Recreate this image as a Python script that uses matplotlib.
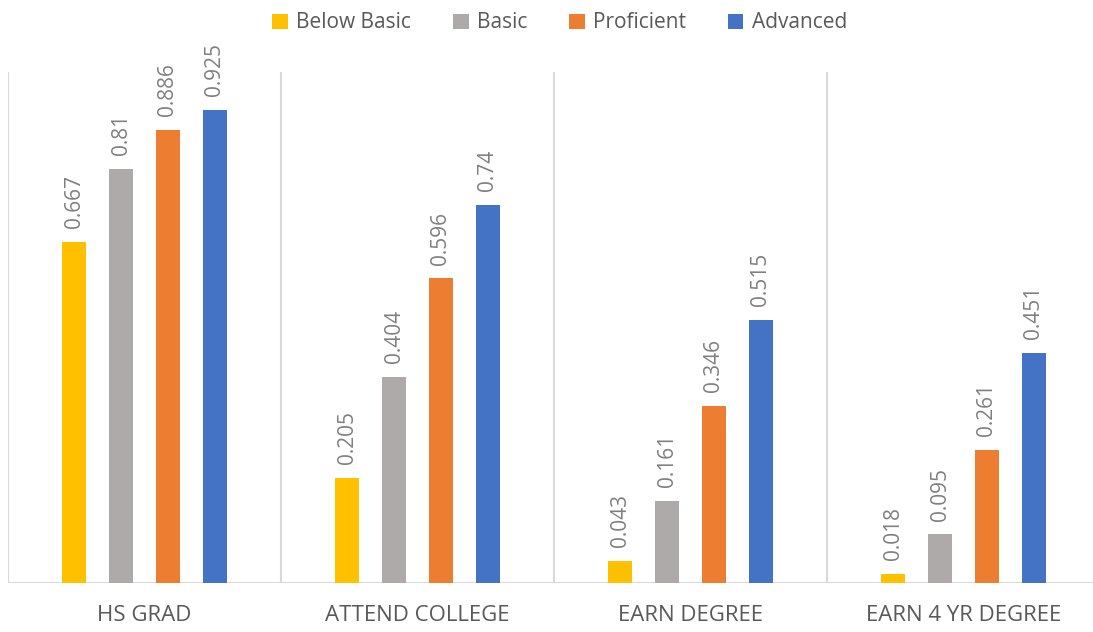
import matplotlib
matplotlib.use("Agg")
import matplotlib.pyplot as plt
import numpy as np

categories = ["HS GRAD", "ATTEND COLLEGE", "EARN DEGREE", "EARN 4 YR DEGREE"]
series_names = ["Below Basic", "Basic", "Proficient", "Advanced"]
below_basic = [0.667, 0.205, 0.043, 0.018]
basic = [0.81, 0.404, 0.161, 0.095]
proficient = [0.886, 0.596, 0.346, 0.261]
advanced = [0.925, 0.74, 0.515, 0.451]
colors = ["#FFC000", "#AEAAAA", "#ED7D31", "#4472C4"]

series = [below_basic, basic, proficient, advanced]

plt.rcParams['font.family'] = ['Open Sans', 'DejaVu Sans']

W, H = 1093, 632
fig = plt.figure(figsize=(W / 100, H / 100), dpi=100)
left, right, bottom, top = 8, 1100, 583, 72
ax = fig.add_axes([left / W, (H - bottom) / H, (right - left) / W, (bottom - top) / H])

n = len(categories)
x = np.arange(n)
bw = 24 / 273
step = 46.7 / 273
offsets = (np.arange(4) - 1.5) * step
grid = "#D9D9D9"
label_color = "#7F7F7F"

for i, (vals, name, c) in enumerate(zip(series, series_names, colors)):
    bars = ax.bar(x + offsets[i], vals, width=bw, color=c, label=name, zorder=3)
    for b, v in zip(bars, vals):
        ax.annotate(f"{v:g}", (b.get_x() + b.get_width() / 2, v),
                    xytext=(0, 10), textcoords="offset points",
                    rotation=90, ha="center", va="bottom",
                    fontsize=15, color=label_color)

ax.set_xlim(-0.5, n - 0.5)
ax.set_ylim(0, 1)
for s in np.arange(n + 1) - 0.5:
    ax.axvline(s, color=grid, lw=1.5, zorder=1)
for sp in ax.spines.values():
    sp.set_visible(False)
ax.axhline(0, color=grid, lw=1.5, zorder=2)
ax.set_yticks([])
ax.set_xticks(x)
ax.set_xticklabels(categories, fontsize=16, color="#595959")
ax.tick_params(axis="x", length=0, pad=16)

leg = fig.legend(loc="upper center", bbox_to_anchor=(0.512, 1.01), ncol=4,
                 frameon=False, fontsize=15, handlelength=0.75, handleheight=0.75,
                 handletextpad=0.4, columnspacing=2.0, labelcolor="#595959")

fig.savefig("out.png", dpi=100)
